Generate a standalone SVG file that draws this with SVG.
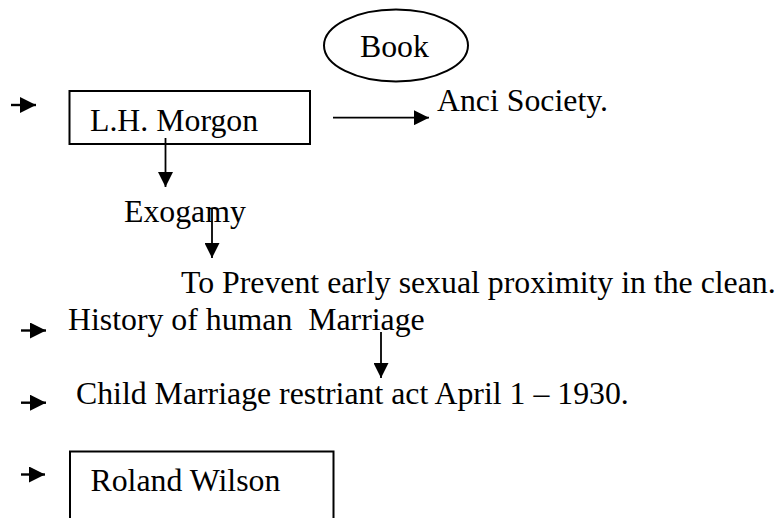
<svg xmlns="http://www.w3.org/2000/svg" width="779" height="518" viewBox="0 0 779 518">
  <defs>
    <marker id="head" viewBox="0 0 15 15" refX="15" refY="7.5" markerWidth="15" markerHeight="15" markerUnits="userSpaceOnUse" orient="auto">
      <path d="M0,0 L15,7.5 L0,15 Z" fill="#000"/>
    </marker>
    <marker id="head-s" viewBox="0 0 16 16" refX="16" refY="8" markerWidth="16" markerHeight="16" markerUnits="userSpaceOnUse" orient="auto">
      <path d="M0,0 L16,8 L0,16 Z" fill="#000"/>
    </marker>
  </defs>
  <style>
    text { font-family: "Liberation Serif", "Times New Roman", serif; font-size: 31.8px; fill: #000; white-space: pre; }
    .box { fill: none; stroke: #000; stroke-width: 2; }
    .link { fill: none; stroke: #000; stroke-width: 1.8; marker-end: url(#head); }
    .bullet { fill: none; stroke: #000; stroke-width: 2.4; marker-end: url(#head-s); }
  </style>
  <rect width="779" height="518" fill="#fff"/>

  <g id="book">
    <ellipse class="box" cx="396" cy="45.5" rx="72" ry="36"/>
    <text x="360" y="56.5">Book</text>
  </g>

  <g id="morgon">
    <rect class="box" x="69.5" y="91" width="240.5" height="53"/>
    <text x="90" y="131">L.H. Morgon</text>
  </g>

  <g id="anci-society">
    <text x="437" y="111">Anci Society.</text>
  </g>

  <g id="exogamy">
    <text x="124" y="221.5">Exogamy</text>
  </g>

  <g id="prevent">
    <text x="181" y="293">To Prevent early sexual proximity in the clean.</text>
  </g>

  <g id="history">
    <text x="68" y="330">History of human  Marriage</text>
  </g>

  <g id="child-marriage">
    <text x="76" y="404">Child Marriage restriant act April 1 – 1930.</text>
  </g>

  <g id="wilson">
    <rect class="box" x="70" y="451.5" width="263.5" height="80"/>
    <text x="90.5" y="490.5">Roland Wilson</text>
  </g>

  <g id="connectors">
    <line class="link" x1="333" y1="117.7" x2="429" y2="117.7"/>
    <line class="link" x1="165.5" y1="138" x2="165.5" y2="187"/>
    <line class="link" x1="212" y1="208" x2="212" y2="258"/>
    <line class="link" x1="381" y1="332" x2="381" y2="378"/>
    <line class="bullet" x1="11" y1="105" x2="36" y2="105"/>
    <line class="bullet" x1="21" y1="330.5" x2="46" y2="330.5"/>
    <line class="bullet" x1="21" y1="402.7" x2="46" y2="402.7"/>
    <line class="bullet" x1="21" y1="474.5" x2="45" y2="474.5"/>
  </g>
</svg>
